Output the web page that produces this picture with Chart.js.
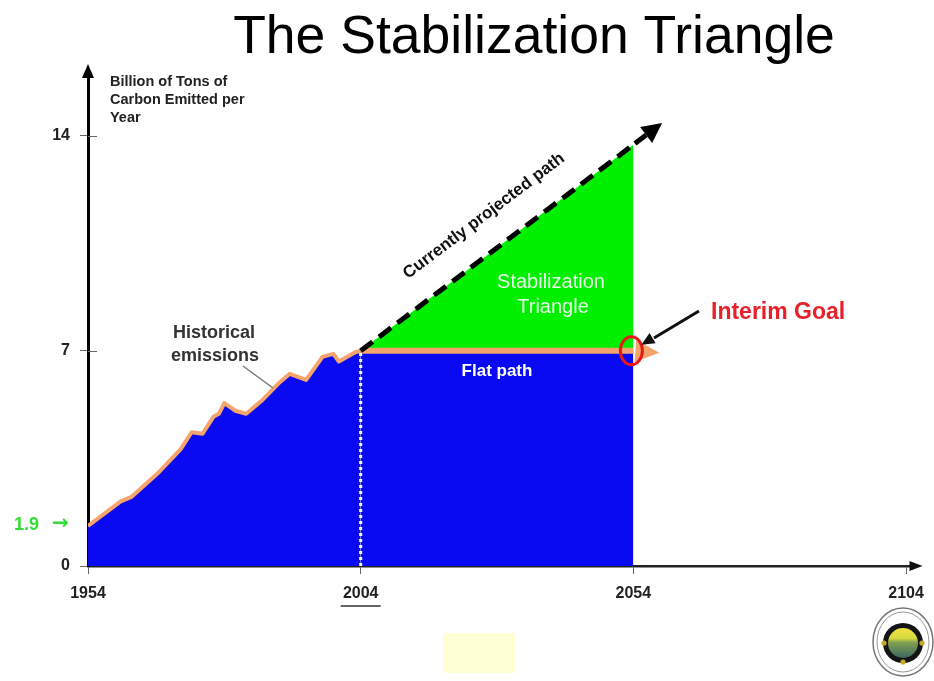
<!DOCTYPE html>
<html><head><meta charset="utf-8">
<script src="https://cdn.jsdelivr.net/npm/chart.js@4.4.1/dist/chart.umd.min.js"></script>
<style>html,body{margin:0;padding:0;background:#fff}canvas{display:block}</style>
</head><body>
<canvas id="c" width="934" height="681"></canvas>
<script>
// ---- data ----
const titleText = 'The Stabilization Triangle';
const axisTitleLines = ['Billion of Tons of', 'Carbon Emitted per', 'Year'];
const histYears  = [1954, 1960, 1962, 1967, 1971, 1973, 1975, 1977, 1978, 1979, 1981, 1983, 1986, 1989, 1991, 1994, 1997, 1999, 2000, 2003, 2004];
const histValues = [1.3, 2.1, 2.25, 3.05, 3.8, 4.35, 4.3, 4.85, 4.95, 5.3, 5.05, 4.95, 5.4, 5.95, 6.25, 6.05, 6.8, 6.9, 6.65, 6.95, 7.0];
const flatYears  = [2004, 2054];
const flatValues = [7, 7];
const projYears  = [2004, 2054];
const projValues = [7, 13.7];
const xTicks = [1954, 2004, 2054, 2104];
const yTicks = [0, 7, 14];
const startLabel = ['1.9', '\u2192'];
const labels = {
  historical: ['Historical', 'emissions'],
  projected: 'Currently projected path',
  triangle: ['Stabilization', 'Triangle'],
  flat: 'Flat path',
  goal: 'Interim Goal'
};

const FONT = '"Liberation Sans", Arial, Helvetica, sans-serif';
const BLUE = '#0a0af2';
const GREEN = '#00f000';
const ORANGE = '#f4a46c';

const pts = (xs, ys) => xs.map((v, i) => ({x: v, y: ys[i]}));

function arrowHead(ctx, fx, fy, tx, ty, len, half, color) {
  const dx = tx - fx, dy = ty - fy, L = Math.hypot(dx, dy);
  const ux = dx / L, uy = dy / L;
  const bx = tx - ux * len, by = ty - uy * len;
  ctx.fillStyle = color;
  ctx.beginPath();
  ctx.moveTo(tx, ty);
  ctx.lineTo(bx - uy * half, by + ux * half);
  ctx.lineTo(bx + uy * half, by - ux * half);
  ctx.closePath();
  ctx.fill();
}

const deco = {
  id: 'deco',
  beforeDraw(chart) {
    const ctx = chart.ctx;
    ctx.save();
    ctx.fillStyle = '#fff';
    ctx.fillRect(0, 0, chart.width, chart.height);
    ctx.fillStyle = '#ffffd6';
    ctx.fillRect(443, 633, 72, 40);
    ctx.restore();
  },
  afterDraw(chart) {
    const {ctx, chartArea: ca} = chart;
    const xs = chart.scales.x, ys = chart.scales.y;
    ctx.save();

    // y tick marks crossing into the plot
    ctx.strokeStyle = '#666'; ctx.lineWidth = 1;
    yTicks.slice(1).forEach(v => {
      const py = Math.round(ys.getPixelForValue(v)) + 0.5;
      ctx.beginPath(); ctx.moveTo(ca.left, py); ctx.lineTo(ca.left + 9, py); ctx.stroke();
    });

    // axis arrow heads
    arrowHead(ctx, ca.left, ca.bottom, ca.left, ca.top - 10, 14, 6, '#000');
    arrowHead(ctx, ca.left, ca.bottom, ca.right + 11, ca.bottom, 13, 5, '#111');

    // projected path arrow head
    const p0x = xs.getPixelForValue(projYears[0]), p0y = ys.getPixelForValue(projValues[0]);
    const p1x = xs.getPixelForValue(projYears[1]), p1y = ys.getPixelForValue(projValues[1]);
    const L = Math.hypot(p1x - p0x, p1y - p0y), ux = (p1x - p0x) / L, uy = (p1y - p0y) / L;
    ctx.strokeStyle = '#000'; ctx.lineWidth = 5; ctx.lineCap = 'butt';
    ctx.beginPath(); ctx.moveTo(p1x + ux * 2, p1y + uy * 2); ctx.lineTo(p1x + ux * 16, p1y + uy * 16); ctx.stroke();
    arrowHead(ctx, p1x, p1y, p1x + ux * 36, p1y + uy * 36, 20, 10, '#000');

    // flat path arrow head (orange)
    const fx = xs.getPixelForValue(flatYears[1]), fy = ys.getPixelForValue(flatValues[1]);
    arrowHead(ctx, fx, fy, fx + 26, fy + 2, 24, 11, ORANGE);

    // red circle at interim goal
    ctx.strokeStyle = '#e81818'; ctx.lineWidth = 3;
    ctx.beginPath(); ctx.ellipse(fx - 2, fy, 11, 14, 0, 0, Math.PI * 2); ctx.stroke();

    // arrow to circle
    ctx.strokeStyle = '#111'; ctx.lineWidth = 3;
    ctx.beginPath(); ctx.moveTo(699, 311); ctx.lineTo(654, 338); ctx.stroke();
    arrowHead(ctx, 699, 311, fx + 8, fy - 6, 13, 6, '#111');

    // title
    ctx.fillStyle = '#000';
    ctx.textAlign = 'center'; ctx.textBaseline = 'alphabetic';
    ctx.font = '53.5px ' + FONT;
    ctx.fillText(titleText, 534, 53);

    // y axis title
    ctx.textAlign = 'left';
    ctx.fillStyle = '#222';
    ctx.font = 'bold 14.5px ' + FONT;
    axisTitleLines.forEach((t, i) => ctx.fillText(t, 110, 86 + i * 18));

    // historical emissions
    ctx.textAlign = 'center';
    ctx.fillStyle = '#333';
    ctx.font = 'bold 18px ' + FONT;
    ctx.fillText(labels.historical[0], 214, 338);
    ctx.fillText(labels.historical[1], 215, 361);
    ctx.strokeStyle = '#7a7a7a'; ctx.lineWidth = 1.5;
    ctx.beginPath(); ctx.moveTo(243, 366); ctx.lineTo(273, 388); ctx.stroke();

    // currently projected path (rotated)
    ctx.save();
    ctx.translate(484, 216);
    ctx.rotate(Math.atan2(p1y - p0y, p1x - p0x));
    ctx.fillStyle = '#111';
    ctx.font = 'bold 17px ' + FONT;
    ctx.textBaseline = 'middle';
    ctx.fillText(labels.projected, 0, 0);
    ctx.restore();

    // stabilization triangle
    ctx.fillStyle = '#e6ffe6';
    ctx.font = '20px ' + FONT;
    ctx.fillText(labels.triangle[0], 551, 288);
    ctx.fillText(labels.triangle[1], 553, 313);

    // flat path
    ctx.fillStyle = '#ffffff';
    ctx.font = 'bold 17px ' + FONT;
    ctx.fillText(labels.flat, 497, 376);

    // interim goal
    ctx.textAlign = 'left';
    ctx.fillStyle = '#e8202a';
    ctx.font = 'bold 23px ' + FONT;
    ctx.fillText(labels.goal, 711, 319);

    // 1.9 start label
    const sy = ys.getPixelForValue(histValues[0]);
    ctx.fillStyle = '#33dd33';
    ctx.textBaseline = 'middle';
    ctx.font = 'bold 18px ' + FONT;
    ctx.fillText(startLabel[0], 14, sy - 1);
    ctx.font = 'bold 20px "DejaVu Sans", sans-serif';
    ctx.fillText(startLabel[1], 52, sy - 2);

    // underline 2004 tick label
    const ux2004 = xs.getPixelForValue(xTicks[1]);
    ctx.strokeStyle = '#333'; ctx.lineWidth = 1.5;
    ctx.beginPath(); ctx.moveTo(ux2004 - 20, 606); ctx.lineTo(ux2004 + 20, 606); ctx.stroke();

    // logo
    const cx = 903, cy = 642;
    ctx.fillStyle = '#fff'; ctx.strokeStyle = '#777'; ctx.lineWidth = 1.5;
    ctx.beginPath(); ctx.ellipse(cx, cy, 30, 34, 0, 0, Math.PI * 2); ctx.fill(); ctx.stroke();
    ctx.strokeStyle = '#999'; ctx.lineWidth = 1;
    ctx.beginPath(); ctx.ellipse(cx, cy, 26, 30, 0, 0, Math.PI * 2); ctx.stroke();
    ctx.fillStyle = '#141414';
    ctx.beginPath(); ctx.arc(cx, cy + 1, 20, 0, Math.PI * 2); ctx.fill();
    const g = ctx.createLinearGradient(0, cy - 14, 0, cy + 15);
    g.addColorStop(0, '#f0e040'); g.addColorStop(0.35, '#d8dc40'); g.addColorStop(0.5, '#80a050'); g.addColorStop(1, '#406a60');
    ctx.fillStyle = g;
    ctx.beginPath(); ctx.arc(cx, cy + 1, 15, 0, Math.PI * 2); ctx.fill();
    ctx.fillStyle = '#c8a828';
    [[cx - 19, cy + 1], [cx + 19, cy + 1], [cx, cy + 20]].forEach(([a, b]) => {
      ctx.beginPath(); ctx.arc(a, b, 2.6, 0, Math.PI * 2); ctx.fill();
    });

    ctx.restore();
  }
};

new Chart(document.getElementById('c'), {
  type: 'line',
  data: {
    datasets: [
      { // dotted white marker at 2004
        data: pts([flatYears[0], flatYears[0]], [0, flatValues[0]]),
        borderColor: '#ffffff', borderWidth: 3, borderDash: [3, 3],
        pointRadius: 0, fill: false
      },
      { // currently projected path (dashed)
        data: pts(projYears, projValues),
        borderColor: '#000000', borderWidth: 5, borderDash: [15, 8],
        pointRadius: 0, fill: false
      },
      { // flat path
        data: pts(flatYears, flatValues),
        borderColor: ORANGE, borderWidth: 6, backgroundColor: BLUE,
        pointRadius: 0, fill: 'origin', borderCapStyle: 'butt'
      },
      { // historical emissions
        data: pts(histYears, histValues),
        borderColor: ORANGE, borderWidth: 4, backgroundColor: BLUE,
        pointRadius: 0, fill: 'origin', tension: 0, borderJoinStyle: 'round'
      },
      { // stabilization triangle
        data: pts(projYears, projValues),
        borderWidth: 0, borderColor: GREEN, backgroundColor: GREEN,
        pointRadius: 0, fill: {value: flatValues[0]}
      }
    ]
  },
  options: {
    responsive: false,
    devicePixelRatio: 1,
    animation: false,
    events: [],
    layout: { padding: { top: 74, right: 22, left: 0, bottom: 0 } },
    plugins: { legend: { display: false }, title: { display: false }, tooltip: { enabled: false } },
    scales: {
      x: {
        type: 'linear', min: 1954, max: 2105,
        afterFit: s => { s.height = 115; },
        afterBuildTicks: s => { s.ticks = xTicks.map(v => ({value: v})); },
        ticks: { callback: v => String(v), color: '#222', padding: 10, maxRotation: 0,
                 autoSkip: false, font: { family: FONT, size: 16, weight: 'bold' } },
        grid: { drawOnChartArea: false, drawTicks: true, tickLength: 8, color: '#666', lineWidth: 1 },
        border: { display: true, color: '#222', width: 2.5 }
      },
      y: {
        type: 'linear', min: 0, max: 16,
        afterFit: s => { s.width = 88; },
        afterBuildTicks: s => { s.ticks = yTicks.map(v => ({value: v})); },
        ticks: { callback: v => String(v), color: '#222', padding: 10,
                 autoSkip: false, font: { family: FONT, size: 16, weight: 'bold' } },
        grid: { drawOnChartArea: false, drawTicks: true, tickLength: 8, color: '#666', lineWidth: 1 },
        border: { display: true, color: '#000', width: 3 }
      }
    }
  },
  plugins: [deco]
});
</script>
</body></html>
